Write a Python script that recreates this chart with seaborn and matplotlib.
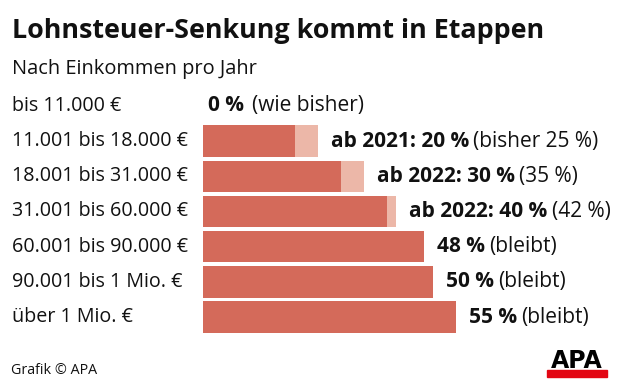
import matplotlib
matplotlib.use("Agg")
import matplotlib.pyplot as plt
import matplotlib.transforms as mtransforms
from matplotlib.patches import Rectangle
import pandas as pd
import seaborn as sns

# income brackets and tax rates (percent)
brackets = ["bis 11.000 €", "11.001 bis 18.000 €", "18.001 bis 31.000 €",
            "31.001 bis 60.000 €", "60.001 bis 90.000 €", "90.001 bis 1 Mio. €",
            "über 1 Mio. €"]
rate_old = [0, 25, 35, 42, 48, 50, 55]
rate_new = [0, 20, 30, 40, 48, 50, 55]
label_bold = ["0 %", "ab 2021: 20 %", "ab 2022: 30 %", "ab 2022: 40 %",
              "48 %", "50 %", "55 %"]
label_note = ["(wie bisher)", "(bisher 25 %)", "(35 %)", "(42 %)",
              "(bleibt)", "(bleibt)", "(bleibt)"]

DARK = "#d46a5a"
LIGHT = "#ecb7a8"
W, H = 620, 388
PX_PER_PCT = 4.6
X0 = 203  # pixel where the bars start


def main():
    sns.set_style("white")
    plt.rcParams["font.family"] = ["Open Sans", "DejaVu Sans"]

    df = pd.DataFrame({"Stufe": brackets, "alt": rate_old, "neu": rate_new})

    fig = plt.figure(figsize=(W / 100, H / 100), dpi=100)
    top, bottom = 88.4, 334.6
    ax = fig.add_axes([X0 / W, 1 - bottom / H, 1 - X0 / W, (bottom - top) / H])

    sns.barplot(data=df, x="alt", y="Stufe", color=LIGHT, saturation=1,
                width=0.9, linewidth=0, orient="h", ax=ax)
    sns.barplot(data=df, x="neu", y="Stufe", color=DARK, saturation=1,
                width=0.9, linewidth=0, orient="h", ax=ax)
    ax.set_xlim(0, (W - X0) / PX_PER_PCT)
    ax.set_ylim(len(brackets) - 0.5, -0.5)
    ax.axis("off")

    trans = mtransforms.blended_transform_factory(fig.transFigure, ax.transData)
    for i, name in enumerate(brackets):
        ax.text(12 / W, i, name, transform=trans, ha="left", va="center",
                fontsize=14.2, color="#111111")

        end = max(rate_old[i], rate_new[i])
        pad = 13 if end > 0 else 5
        t = ax.text(end + pad / PX_PER_PCT, i, label_bold[i], ha="left",
                    va="center", fontsize=15, fontweight="bold", color="#111111")
        gap = 6 if end == 0 else 3
        ax.annotate(label_note[i], xy=(1, 0.5), xycoords=t, xytext=(gap, 0),
                    textcoords="offset points", ha="left", va="center",
                    fontsize=15, color="#111111")

    fig.text(12 / W, 1 - 31 / H, "Lohnsteuer-Senkung kommt in Etappen",
             fontsize=19.4, fontweight="bold", va="center", color="#111111")
    fig.text(12 / W, 1 - 69 / H, "Nach Einkommen pro Jahr",
             fontsize=14.4, va="center", color="#111111")

    fig.text(11 / W, 1 - 370 / H, "Grafik © APA", fontsize=10.3, va="center",
             color="#111111")
    fig.text(577 / W, 1 - 361 / H, "APA", fontsize=17, fontweight="bold",
             family="DejaVu Sans", ha="center", va="center", color="black")
    fig.patches.append(Rectangle((547 / W, 1 - 377 / H), 60 / W, 7 / H,
                                 transform=fig.transFigure, color="#e30613"))

    plt.savefig("out.png", dpi=100)


if __name__ == "__main__":
    main()
